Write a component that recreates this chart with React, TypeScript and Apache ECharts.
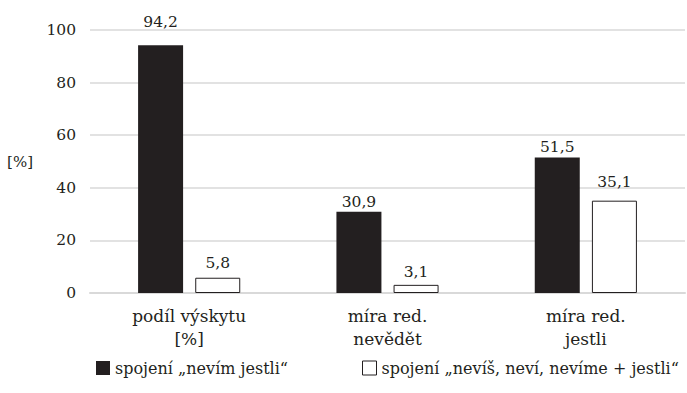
import React, { useEffect, useRef } from "react";
import * as echarts from "echarts";

const categories = ["podíl výskytu\n[%]", "míra red.\nnevědět", "míra red.\njestli"];
const seriesNames = ["spojení „nevím jestli“", "spojení „nevíš, neví, nevíme + jestli“"];
const nevimJestli = [94.2, 30.9, 51.5];
const ostatniJestli = [5.8, 3.1, 35.1];
const yTicks = [0, 20, 40, 60, 80, 100];

// gap (px) between each value label and the top of its bar
const labelGapNevim = [15, 2, 3];
const labelGapOstatni = [7, 5, 11];

const FONT = "DejaVu Serif";
const TEXT = "#231f20";
const NUM_SIZE = 15.5;
const WORD_SIZE = 17;
const LEGEND_SIZE = 16;

const fmt = (p: any) => String(p.value).replace(".", ",");

function withLabels(values: number[], gaps: number[]) {
  return values.map((v, i) => ({ value: v, label: { distance: gaps[i] } }));
}

export default function App() {
  const ref = useRef<HTMLDivElement>(null);
  useEffect(() => {
    if (!ref.current) return;
    const chart = echarts.init(ref.current, null, { renderer: "svg" });
    const legendBase = {
      top: 360,
      itemWidth: 14,
      itemHeight: 14,
      itemGap: 0,
      padding: 0,
      icon: "rect",
      textStyle: { fontFamily: FONT, fontSize: LEGEND_SIZE, color: TEXT },
    };
    const label = {
      show: true,
      position: "top",
      formatter: fmt,
      fontFamily: FONT,
      fontSize: NUM_SIZE,
      color: TEXT,
    };
    chart.setOption({
      animation: false,
      textStyle: { fontFamily: FONT, color: TEXT },
      grid: { left: 90, right: 2, top: 30, bottom: 100 },
      legend: [
        {
          ...legendBase,
          left: 96,
          data: [{ name: seriesNames[0], itemStyle: { color: TEXT } }],
        },
        {
          ...legendBase,
          left: 362,
          data: [{ name: seriesNames[1], itemStyle: { color: "#ffffff", borderColor: TEXT, borderWidth: 1 } }],
        },
      ],
      xAxis: {
        type: "category",
        data: categories,
        axisTick: { show: false },
        axisLine: { lineStyle: { color: "#d9d9d9", width: 2 } },
        axisLabel: { fontFamily: FONT, fontSize: WORD_SIZE, color: TEXT, lineHeight: 23, margin: 11 },
      },
      yAxis: {
        type: "value",
        min: yTicks[0],
        max: yTicks[yTicks.length - 1],
        interval: 20,
        name: "[%]",
        nameLocation: "middle",
        nameRotate: 0,
        nameGap: 57,
        nameTextStyle: { fontFamily: FONT, fontSize: 15, color: TEXT },
        axisLine: { show: false },
        axisTick: { show: false },
        axisLabel: { fontFamily: FONT, fontSize: NUM_SIZE, color: TEXT, margin: 14 },
        splitLine: { lineStyle: { color: "#d9d9d9", width: 1.5 } },
      },
      series: [
        {
          name: seriesNames[0],
          type: "bar",
          data: withLabels(nevimJestli, labelGapNevim),
          barWidth: 45,
          barGap: "27%",
          itemStyle: { color: TEXT },
          label,
        },
        {
          name: seriesNames[1],
          type: "bar",
          data: withLabels(ostatniJestli, labelGapOstatni),
          barWidth: 45,
          itemStyle: { color: "#ffffff", borderColor: TEXT, borderWidth: 1 },
          label,
        },
      ],
    });
    return () => chart.dispose();
  }, []);
  return (
    <div style={{ position: "absolute", left: 0, top: 0 }}>
      <div ref={ref} style={{ width: 687, height: 393 }} />
    </div>
  );
}
